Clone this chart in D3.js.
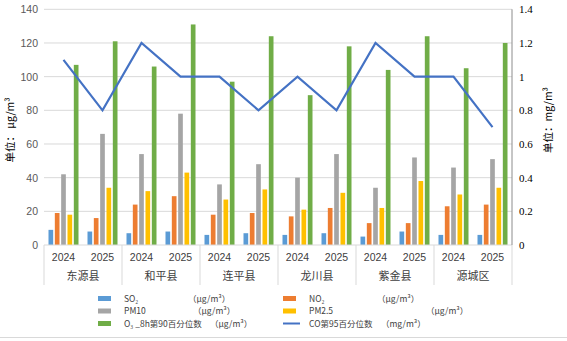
<!DOCTYPE html>
<html><head><meta charset="utf-8">
<script src="https://cdn.jsdelivr.net/npm/d3@7"></script>
<style>body{margin:0;background:#fff}svg{display:block}</style>
</head><body>
<script>
const counties = ["东源县","和平县","连平县","龙川县","紫金县","源城区"];
const years = ["2024","2025"];
const so2  = [9,8, 7,8, 6,7, 6,7, 5,8, 6,6];
const no2  = [19,16, 24,29, 18,19, 17,22, 13,13, 23,24];
const pm10 = [42,66, 54,78, 36,48, 40,54, 34,52, 46,51];
const pm25 = [18,34, 32,43, 27,33, 21,31, 22,38, 30,34];
const o3   = [107,121, 106,131, 97,124, 89,118, 104,124, 105,120];
const co   = [1.1,0.8, 1.2,1.0, 1.0,0.8, 1.0,0.8, 1.2,1.0, 1.0,0.7];
const leftTicks = [0,20,40,60,80,100,120,140];
const rightTicks = [0,0.2,0.4,0.6,0.8,1,1.2,1.4];
const barSeries = [
  {name:"SO₂", unit:"（μg/m³）", values:so2, color:"#5B9BD5"},
  {name:"NO₂", unit:"（μg/m³）", values:no2, color:"#ED7D31"},
  {name:"PM10", unit:"（μg/m³）", values:pm10, color:"#A5A5A5"},
  {name:"PM2.5", unit:"（μg/m³）", values:pm25, color:"#FFC000"},
  {name:"O₃ _8h第90百分位数", unit:"（μg/m³）", values:o3, color:"#70AD47"}
];
const lineColor = "#4472C4";

const W=567,H=341;
const L=44,R=512,T=9.3,B=245;
const svg=d3.select("body").append("svg").attr("width",W).attr("height",H);

const keys = d3.range(12);
const x0 = d3.scaleBand().domain(keys).range([L,R]).paddingInner(0).paddingOuter(0);
const x1 = d3.scaleBand().domain(d3.range(5)).range([4.5, x0.bandwidth()-4.5]).paddingInner(0.26).paddingOuter(0);
const y = d3.scaleLinear().domain([0,140]).range([B,T]);
const y2 = d3.scaleLinear().domain([0,1.4]).range([B,T]);

// gridlines
svg.append("g").selectAll("line").data(leftTicks.slice(1)).join("line")
  .attr("x1",L).attr("x2",R).attr("y1",d=>y(d)).attr("y2",d=>y(d))
  .attr("stroke","#D9D9D9").attr("stroke-width",1);

// bars
barSeries.forEach((s,si)=>{
  svg.append("g").selectAll("rect").data(s.values).join("rect")
    .attr("x",(d,i)=>x0(i)+x1(si)).attr("width",x1.bandwidth())
    .attr("y",d=>y(d)).attr("height",d=>B-y(d)).attr("fill",s.color);
});

// baseline
svg.append("line").attr("x1",L).attr("x2",R).attr("y1",B).attr("y2",B).attr("stroke","#D9D9D9");

// line
const line=d3.line().x((d,i)=>x0(i)+x0.bandwidth()/2).y(d=>y2(d));
svg.append("path").datum(co).attr("d",line).attr("fill","none").attr("stroke",lineColor).attr("stroke-width",2.2).attr("stroke-linejoin","miter");

// right axis line
svg.append("line").attr("x1",R).attr("x2",R).attr("y1",T).attr("y2",B).attr("stroke","#8C8C8C");

// left axis
const la=d3.axisLeft(y).tickValues(leftTicks).tickSize(0).tickPadding(6);
svg.append("g").attr("transform",`translate(${L},0)`).call(la)
  .call(g=>g.select(".domain").remove())
  .selectAll("text").attr("font-family","Liberation Sans, Arial").attr("font-size","10.5px").attr("fill","#595959");

// right axis
const ra=d3.axisRight(y2).tickValues(rightTicks).tickSize(0).tickPadding(7).tickFormat(d=>String(d));
svg.append("g").attr("transform",`translate(${R},0)`).call(ra)
  .call(g=>g.select(".domain").remove())
  .selectAll("text").attr("font-family","Liberation Serif, serif").attr("font-size","11px").attr("fill","#000");

// x axis separators
const seps=d3.range(0,13,2).map(i=> i<12 ? x0(i) : R);
svg.append("g").selectAll("line").data(seps).join("line")
  .attr("x1",d=>d).attr("x2",d=>d).attr("y1",B).attr("y2",285).attr("stroke","#D9D9D9");

// year labels
svg.append("g").selectAll("text").data(keys).join("text")
  .attr("x",i=>x0(i)+x0.bandwidth()/2).attr("y",261)
  .attr("text-anchor","middle").attr("font-family","Liberation Sans, Arial").attr("font-size","10.5px").attr("fill","#404040")
  .text(i=>years[i%2]);
// county labels
svg.append("g").selectAll("text").data(counties).join("text")
  .attr("x",(d,i)=>x0(i*2)+x0.bandwidth()).attr("y",280)
  .attr("text-anchor","middle").attr("font-family","Noto Sans CJK SC").attr("font-size","11px").attr("fill","#404040")
  .text(d=>d);

// axis titles
svg.append("text").attr("transform","translate(14,130) rotate(-90)").attr("text-anchor","middle")
  .attr("font-family","Noto Sans CJK SC").attr("font-size","10.5px").attr("fill","#000").text("单位：  μg/m³");
svg.append("text").attr("transform","translate(552,120) rotate(-90)").attr("text-anchor","middle")
  .attr("font-family","Noto Sans CJK SC").attr("font-size","10.5px").attr("fill","#000").text("单位：mg/m³");

// legend
const legendItems=[
  {s:barSeries[0],x:98,y:298.5,ux:188},
  {s:barSeries[1],x:283,y:298.5,ux:377},
  {s:barSeries[2],x:98,y:311,ux:193},
  {s:barSeries[3],x:283,y:311,ux:426},
  {s:barSeries[4],x:98,y:323.5,ux:210},
  {s:{name:"CO第95百分位数",unit:"（mg/m³）",color:lineColor,isLine:true},x:283,y:323.5,ux:381}
];
const lg=svg.append("g").attr("font-family","Noto Sans CJK SC").attr("font-size","8.5px").attr("fill","#404040");
legendItems.forEach(it=>{
  if(it.s.isLine){
    lg.append("line").attr("x1",it.x).attr("x2",it.x+17).attr("y1",it.y).attr("y2",it.y).attr("stroke",it.s.color).attr("stroke-width",2);
  } else {
    lg.append("rect").attr("x",it.x).attr("y",it.y-2.5).attr("width",13).attr("height",5).attr("fill",it.s.color);
  }
  lg.append("text").attr("x",it.x+(it.s.isLine?26:26)).attr("y",it.y+3).text(it.s.name);
  lg.append("text").attr("x",it.ux).attr("y",it.y+3).text(it.s.unit);
});

// bottom border line
svg.append("line").attr("x1",0).attr("x2",W).attr("y1",337.5).attr("y2",337.5).attr("stroke","#D9D9D9");
</script>
</body></html>
